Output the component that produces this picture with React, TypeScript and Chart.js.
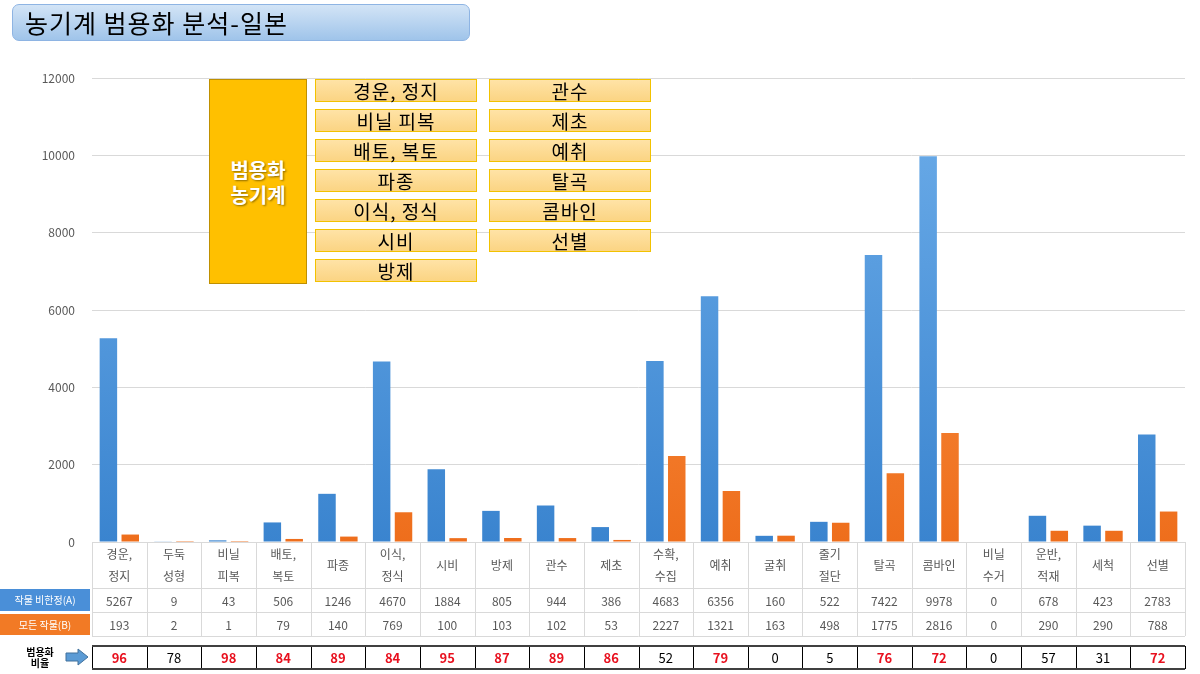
import React, { useEffect, useRef } from "react";
import { Chart, registerables } from "chart.js";

Chart.register(...registerables);

// ---- Data ----
const categories: (string | string[])[] = [
  ["경운,", "정지"], ["두둑", "성형"], ["비닐", "피복"], ["배토,", "복토"], "파종",
  ["이식,", "정식"], "시비", "방제", "관수", "제초",
  ["수확,", "수집"], "예취", "굴취", ["줄기", "절단"], "탈곡",
  "콤바인", ["비닐", "수거"], ["운반,", "적재"], "세척", "선별",
];
const seriesA = [5267, 9, 43, 506, 1246, 4670, 1884, 805, 944, 386, 4683, 6356, 160, 522, 7422, 9978, 0, 678, 423, 2783];
const seriesB = [193, 2, 1, 79, 140, 769, 100, 103, 102, 53, 2227, 1321, 163, 498, 1775, 2816, 0, 290, 290, 788];
const ratio = [96, 78, 98, 84, 89, 84, 95, 87, 89, 86, 52, 79, 0, 5, 76, 72, 0, 57, 31, 72];
const highlighted = [true, false, true, true, true, true, true, true, true, true, false, true, false, false, true, true, false, false, false, true];
const seriesALabel = "작물 비한정(A)";
const seriesBLabel = "모든 작물(B)";
const ratioLabel = ["범용화", "비율"];
const yMin = 0;
const yMax = 12000;
const yStep = 2000;
const titleText = "농기계 범용화 분석-일본";
const legendTitle = ["범용화", "농기계"];
const legendCol1 = ["경운, 정지", "비닐 피복", "배토, 복토", "파종", "이식, 정식", "시비", "방제"];
const legendCol2 = ["관수", "제초", "예취", "탈곡", "콤바인", "선별"];

const FONT = "'Noto Sans CJK KR', 'Noto Sans', sans-serif";

function makeGradient(chart: any, top: string, bottom: string, fallback: string) {
  const area = chart.chartArea;
  if (!area) return fallback;
  const g = chart.ctx.createLinearGradient(0, area.bottom, 0, area.top);
  g.addColorStop(0, bottom);
  g.addColorStop(1, top);
  return g;
}

const tablePlugin = {
  id: "dataTable",
  afterDraw(chart: any) {
    const ctx = chart.ctx as CanvasRenderingContext2D;
    const xs = chart.scales.x;
    const area = chart.chartArea;
    const n = categories.length;
    const w = (area.right - area.left) / n;
    const top = Math.round(area.bottom);
    const labelBottom = top + 46;
    const aBottom = labelBottom + 24;
    const bBottom = aBottom + 24;
    const rTop = bBottom + 10;
    const rBottom = rTop + 23;

    ctx.save();
    // light table grid
    ctx.strokeStyle = "#D9D9D9";
    ctx.lineWidth = 1;
    ctx.beginPath();
    for (let i = 0; i <= n; i++) {
      const px = Math.round(area.left + i * w) + 0.5;
      ctx.moveTo(px, top);
      ctx.lineTo(px, bBottom);
    }
    [labelBottom, aBottom, bBottom].forEach((y) => {
      ctx.moveTo(area.left, y + 0.5);
      ctx.lineTo(area.right, y + 0.5);
    });
    ctx.stroke();

    // table texts
    ctx.font = `12px ${FONT}`;
    ctx.fillStyle = "#595959";
    ctx.textAlign = "center";
    ctx.textBaseline = "middle";
    categories.forEach((c, i) => {
      const cx = xs.getPixelForValue(i);
      const lines = Array.isArray(c) ? c : [c];
      const cy = (top + labelBottom) / 2;
      lines.forEach((l, j) => {
        ctx.fillText(l, cx, cy + (j - (lines.length - 1) / 2) * 22);
      });
      ctx.fillText(String(seriesA[i]), cx, (labelBottom + aBottom) / 2 + 1);
      ctx.fillText(String(seriesB[i]), cx, (aBottom + bBottom) / 2 + 1);
    });

    // row headers
    ctx.fillStyle = "#4A8FD8";
    ctx.fillRect(0, labelBottom + 1, 90, 22);
    ctx.fillStyle = "#F27A25";
    ctx.fillRect(0, aBottom + 2, 90, 21);
    ctx.fillStyle = "#FFFFFF";
    ctx.font = `10px ${FONT}`;
    ctx.fillText(seriesALabel, 45, labelBottom + 12);
    ctx.fillText(seriesBLabel, 45, aBottom + 13);

    // ratio label
    ctx.fillStyle = "#000000";
    ctx.font = `bold 10px ${FONT}`;
    ctx.fillText(ratioLabel[0], 40, rTop + 6);
    ctx.fillText(ratioLabel[1], 40, rTop + 17);

    // arrow
    const ay = rTop + 11;
    ctx.beginPath();
    ctx.moveTo(66, ay - 4);
    ctx.lineTo(78, ay - 4);
    ctx.lineTo(78, ay - 8);
    ctx.lineTo(88, ay);
    ctx.lineTo(78, ay + 8);
    ctx.lineTo(78, ay + 4);
    ctx.lineTo(66, ay + 4);
    ctx.closePath();
    ctx.fillStyle = "#5B9BD5";
    ctx.fill();
    ctx.strokeStyle = "#41719C";
    ctx.lineWidth = 1;
    ctx.stroke();

    // ratio row
    ctx.strokeStyle = "#000000";
    ctx.lineWidth = 1;
    ctx.beginPath();
    for (let i = 0; i <= n; i++) {
      const px = Math.round(area.left + i * w) + 0.5;
      ctx.moveTo(px, rTop);
      ctx.lineTo(px, rBottom);
    }
    ctx.stroke();
    ctx.strokeStyle = "#404040";
    ctx.lineWidth = 2;
    ctx.beginPath();
    ctx.moveTo(area.left, rTop);
    ctx.lineTo(area.right, rTop);
    ctx.moveTo(area.left, rBottom);
    ctx.lineTo(area.right, rBottom);
    ctx.stroke();

    ratio.forEach((r, i) => {
      const cx = xs.getPixelForValue(i);
      if (highlighted[i]) {
        ctx.font = `bold 13px ${FONT}`;
        ctx.fillStyle = "#E8101E";
      } else {
        ctx.font = `13px ${FONT}`;
        ctx.fillStyle = "#000000";
      }
      ctx.fillText(String(r), cx, (rTop + rBottom) / 2 + 1);
    });
    ctx.restore();
  },
};

export default function App() {
  const ref = useRef<HTMLCanvasElement | null>(null);

  useEffect(() => {
    if (!ref.current) return;
    const chart = new Chart(ref.current, {
      type: "bar",
      data: {
        labels: categories as any,
        datasets: [
          {
            label: seriesALabel,
            data: seriesA,
            backgroundColor: (c: any) => makeGradient(c.chart, "#6EAEEA", "#3A84CF", "#5B9BD5"),
            barPercentage: 0.8,
            categoryPercentage: 0.8,
          },
          {
            label: seriesBLabel,
            data: seriesB,
            backgroundColor: (c: any) => makeGradient(c.chart, "#FFA055", "#EE6E1C", "#ED7D31"),
            barPercentage: 0.8,
            categoryPercentage: 0.8,
          },
        ],
      },
      options: {
        animation: false,
        responsive: true,
        maintainAspectRatio: false,
        layout: { padding: { left: 0, right: 15, top: 78, bottom: 132 } },
        plugins: { legend: { display: false }, tooltip: { enabled: false } },
        scales: {
          x: { display: false },
          y: {
            min: yMin,
            max: yMax,
            border: { display: false },
            grid: { color: "#D9D9D9", drawTicks: false },
            ticks: {
              stepSize: yStep,
              padding: 17,
              color: "#595959",
              font: { family: FONT, size: 12 },
              callback: (v: any) => String(v),
            },
            afterFit: (s: any) => {
              s.width = 92;
            },
          },
        },
      },
      plugins: [tablePlugin],
    });
    return () => chart.destroy();
  }, []);

  const smallBox = (text: string, left: number, top: number) => (
    <div
      key={text + left}
      style={{
        position: "absolute",
        left,
        top,
        width: 162,
        height: 23,
        boxSizing: "border-box",
        background: "linear-gradient(#FFE3A6, #FBD483)",
        border: "1px solid #F2C200",
        fontFamily: FONT,
        fontSize: 19,
        letterSpacing: 1,
        lineHeight: "21px",
        textAlign: "center",
        color: "#000",
      }}
    >
      {text}
    </div>
  );

  return (
    <div style={{ position: "absolute", left: 0, top: 0, width: 1200, height: 674, background: "#fff" }}>
      <canvas ref={ref} />
      <div
        style={{
          position: "absolute",
          left: 12,
          top: 4,
          width: 458,
          height: 37,
          boxSizing: "border-box",
          borderRadius: 7,
          border: "1px solid #8EB4E3",
          background: "linear-gradient(#D3E4F6, #9FC4EA)",
          fontFamily: FONT,
          fontSize: 25,
          letterSpacing: 1,
          lineHeight: "34px",
          paddingLeft: 12,
          color: "#000",
          whiteSpace: "nowrap",
        }}
      >
        {titleText}
      </div>
      <div
        style={{
          position: "absolute",
          left: 209,
          top: 79,
          width: 98,
          height: 205,
          boxSizing: "border-box",
          background: "#FFC000",
          border: "1px solid #BF9000",
          display: "flex",
          flexDirection: "column",
          justifyContent: "center",
          alignItems: "center",
          fontFamily: FONT,
          fontWeight: "bold",
          fontSize: 20,
          lineHeight: "25px",
          color: "#fff",
          textShadow: "1px 1px 2px rgba(0,0,0,0.45)",
        }}
      >
        <div>{legendTitle[0]}</div>
        <div>{legendTitle[1]}</div>
      </div>
      {legendCol1.map((t, i) => smallBox(t, 315, 79 + i * 30))}
      {legendCol2.map((t, i) => smallBox(t, 489, 79 + i * 30))}
    </div>
  );
}
